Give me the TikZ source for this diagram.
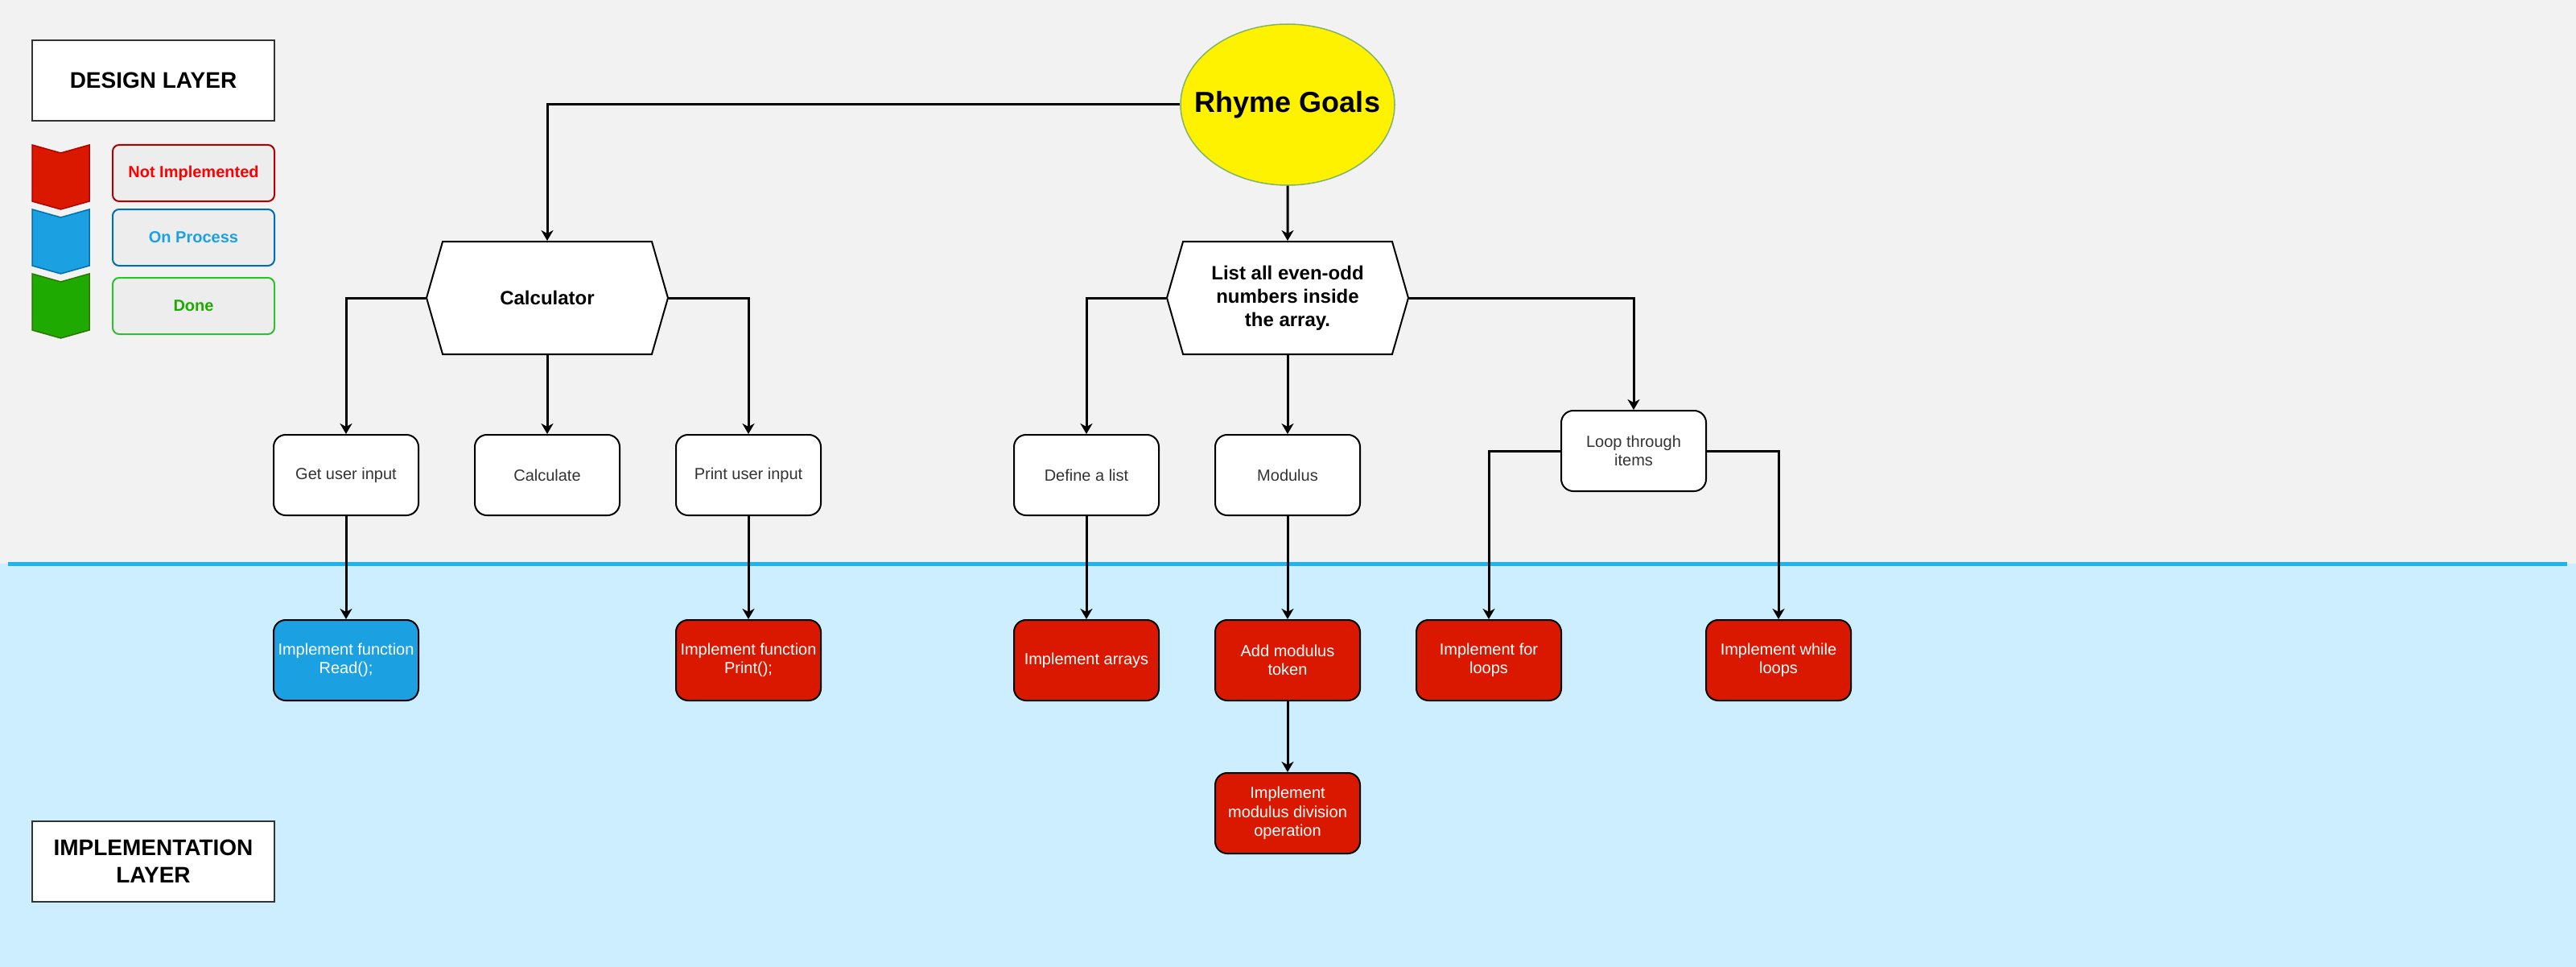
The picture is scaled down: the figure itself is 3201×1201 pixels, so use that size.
\documentclass[tikz,border=0pt]{standalone}
\usepackage{fontspec}
\setmainfont{Liberation Sans}
\usetikzlibrary{shapes.geometric,shapes.symbols,arrows.meta}

\definecolor{bgtop}{HTML}{F2F2F2}
\definecolor{implbg}{HTML}{CCEEFF}
\definecolor{laneline}{RGB}{30,180,240}
\definecolor{textgrey}{HTML}{333333}
\definecolor{redfill}{RGB}{218,24,0}
\definecolor{redline}{HTML}{B20000}
\definecolor{bluefill}{HTML}{1BA1E2}
\definecolor{blueline}{HTML}{006EAF}
\definecolor{greenfill}{RGB}{30,170,0}
\definecolor{greenline}{HTML}{2D7600}
\definecolor{legendred}{HTML}{FF0000}
\definecolor{legendgreen}{RGB}{30,170,0}
\definecolor{legendgreenline}{RGB}{50,190,50}
\definecolor{goalline}{HTML}{82B366}

\begin{document}
\begin{tikzpicture}[x=1pt, y=-1pt,
    arrow/.style={draw=black, line width=3pt, -{Stealth[length=13pt,width=15pt,inset=4pt]}},
    layerbox/.style={draw=textgrey, line width=2pt, fill=white, minimum width=301pt, minimum height=100pt,
      inner sep=0pt, align=center, font=\bfseries\fontsize{28}{34}\selectfont},
    chevron/.style={line width=1.5pt},
    legendbox/.style={rounded corners=8pt, line width=2pt, fill=black!7, minimum width=201pt,
      minimum height=70pt, inner sep=0pt, font=\bfseries\fontsize{20}{24}\selectfont},
    goalnode/.style={ellipse, draw=goalline, line width=1.5pt, fill=yellow, minimum width=266pt,
      minimum height=200pt, inner xsep=-30pt, inner ysep=0pt, font=\bfseries\fontsize{36}{43}\selectfont},
    hexbox/.style={shape=signal, signal to=west and east, signal pointer angle=148, draw=black,
      line width=2pt, fill=white, minimum width=300pt, minimum height=140pt, inner sep=0pt,
      align=center, font=\bfseries\fontsize{24}{29}\selectfont},
    plainbox/.style={draw=black, line width=2pt, fill=white, rounded corners=15pt, minimum width=180pt,
      minimum height=100pt, inner sep=0pt, align=center, text=textgrey, font=\fontsize{20}{23.5}\selectfont},
    implbox/.style={draw=black, line width=2pt, fill=redfill, rounded corners=15pt, minimum width=180pt,
      minimum height=100pt, inner sep=0pt, align=center, text=white, font=\fontsize{20}{23.5}\selectfont}]

    \useasboundingbox (0,0) rectangle (3201,1201);
    \fill[bgtop] (0,0) rectangle (3201,1201);
    \fill[implbg] (0,700) rectangle (3201,1201);
    \draw[laneline, line width=5pt] (10,700) -- (3190,700);

    \node (design) at (190.5,100) [layerbox] {DESIGN LAYER};
    \node (implementation) at (190.5,1070) [layerbox] {IMPLEMENTATION\\LAYER};

    \foreach \top/\fillc/\linec in {180/redfill/redline, 260/bluefill/blueline, 340/greenfill/greenline} {
        \draw[chevron, fill=\fillc, draw=\linec] (40,\top) -- (75.5,\top+10) -- (111,\top)
          -- (111,\top+70) -- (75.5,\top+80) -- (40,\top+70) -- cycle;
    }

    \node (notimpl) at (240.5,215) [legendbox, draw=redline, text=legendred] {Not Implemented};
    \node (onprocess) at (240.5,295) [legendbox, draw=blueline, text=bluefill] {On Process};
    \node (done) at (240.5,380) [legendbox, draw=legendgreenline, text=legendgreen] {Done};

    \node (goal) at (1600,130) [goalnode] {Rhyme Goals};

    \node (calc) at (680,370) [hexbox] {Calculator};
    \node (list) at (1600,370) [hexbox] {List all even-odd\\numbers inside\\the array.};

    \node (getinput) at (430,590) [plainbox] {Get user input};
    \node (calculate) at (680,590) [plainbox] {Calculate};
    \node (printinput) at (930,590) [plainbox] {Print user input};
    \node (define) at (1350,590) [plainbox] {Define a list};
    \node (modulus) at (1600,590) [plainbox] {Modulus};
    \node (loop) at (2030,560) [plainbox] {Loop through\\items};

    \node (read) at (430,820) [implbox, fill=bluefill] {Implement function\\Read();};
    \node (print) at (930,820) [implbox] {Implement function\\Print();};
    \node (arrays) at (1350,820) [implbox] {Implement arrays};
    \node (addmod) at (1600,820) [implbox] {Add modulus\\token};
    \node (forloops) at (1850,820) [implbox] {Implement for\\loops};
    \node (whileloops) at (2210,820) [implbox] {Implement while\\loops};
    \node (moddiv) at (1600,1010) [implbox] {Implement\\modulus division\\operation};

    \foreach \from/\side/\to in {goal/west/calc, calc/west/getinput, calc/east/printinput,
      list/west/define, list/east/loop, loop/west/forloops, loop/east/whileloops} {
        \draw[arrow] (\from.\side) -| (\to.north);
    }

    \foreach \from/\to in {goal/list, calc/calculate, list/modulus, getinput/read,
      printinput/print, define/arrays, modulus/addmod, addmod/moddiv} {
        \draw[arrow] (\from) -- (\to);
    }
  \end{tikzpicture}
\end{document}
